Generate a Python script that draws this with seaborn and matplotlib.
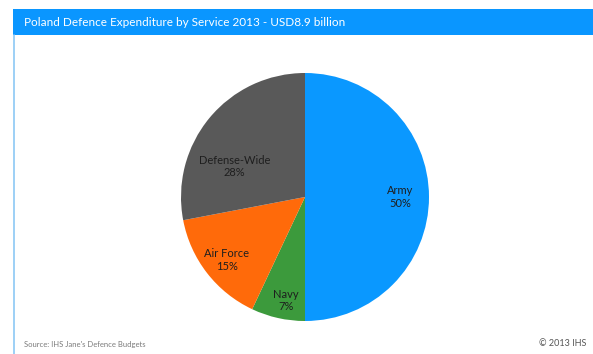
import numpy as np
import matplotlib
matplotlib.use("Agg")
import matplotlib.pyplot as plt
import seaborn as sns
from matplotlib.patches import Rectangle
from matplotlib.lines import Line2D

# Poland defence spending split by service, 2013 (share of total, %)
services = ["Army", "Navy", "Air Force", "Defense-Wide"]
shares = [50, 7, 15, 28]
service_colors = ["#0A98FF", "#3C9A3C", "#FF6A0A", "#595959"]

title = "Poland Defence Expenditure by Service 2013 - USD8.9 billion"
source = "Source: IHS Jane's Defence Budgets"
copyright_note = "\u00a9 2013 IHS"

sns.set_theme(style="white")
plt.rcParams["font.family"] = ["Lato", "DejaVu Sans"]

W, H = 593, 354
fig = plt.figure(figsize=(W / 100, H / 100), dpi=100)
fig.patch.set_facecolor("white")

# header band and left frame line
fig.add_artist(Rectangle((13 / W, 1 - 35 / H), 1 - 13 / W, 26 / H,
                         transform=fig.transFigure, facecolor="#0A96FF",
                         edgecolor="none"))
fig.add_artist(Line2D([13.5 / W, 13.5 / W], [0, 1 - 35 / H],
                      transform=fig.transFigure, color="#8CC8F5", lw=1.2))
fig.text(24 / W, 1 - 22.5 / H, title, color="white", fontsize=8.5,
         va="center", ha="left")

# pie axes: centre (305, 197), radius 124 px
cx, cy, r = 305, 197, 124
ax = fig.add_axes([(cx - r) / W, 1 - (cy + r) / H, 2 * r / W, 2 * r / H])
palette = sns.color_palette(service_colors)
wedges, _ = ax.pie(shares, colors=palette, startangle=90, counterclock=False,
                   wedgeprops=dict(linewidth=0))
ax.set_xlim(-1, 1)
ax.set_ylim(-1, 1)
ax.set_aspect("equal")
ax.axis("off")

# label placement: radial distance and angular offset per wedge
label_dist = [0.77, 0.85, 0.81, 0.62]
label_shift = [0, 2, 1, 16]
for w, name, val, d, s in zip(wedges, services, shares, label_dist, label_shift):
    mid = np.deg2rad((w.theta1 + w.theta2) / 2 + s)
    ax.text(d * np.cos(mid), d * np.sin(mid), f"{name}\n{val}%",
            ha="center", va="center", fontsize=8, color="#1E1E1E",
            linespacing=1.15)

fig.text(24 / W, 1 - 345 / H, source, color="#7A7A7A", fontsize=5.5,
         va="center", ha="left")
fig.text(586 / W, 1 - 344 / H, copyright_note, color="#555555", fontsize=6.5,
         va="center", ha="right")

fig.savefig("out.png", dpi=100)
